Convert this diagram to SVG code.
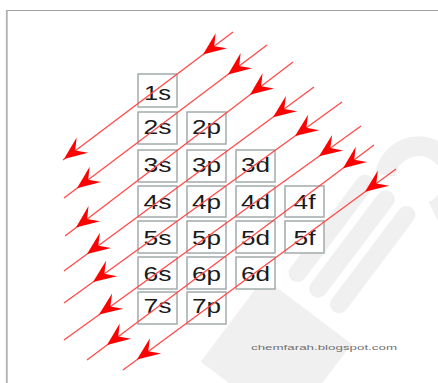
<svg xmlns="http://www.w3.org/2000/svg" width="438" height="383" viewBox="0 0 438 383">
  <style>
    .box { fill: #ffffff; stroke: #a3abab; stroke-width: 1.5; }
    .lbl { font-family: "Liberation Sans", Arial, sans-serif; font-size: 20px; fill: #1a1a1a; text-anchor: middle; }
    .ln { stroke: #ff4a4a; stroke-width: 1.3; fill: none; }
    .ah { fill: #ff0000; }
    .wm { fill: #f0f0f0; }
    .url { font-family: "Liberation Sans", Arial, sans-serif; font-size: 8px; fill: #707070; }
  </style>
  <defs>
    <path id="head" d="M0,0 L-23,-9.5 L-14,0 L-23,9.5 Z"/>
  </defs>
  <rect x="0" y="0" width="438" height="383" fill="#ffffff"/>
  <!-- frame -->
  <line x1="6" y1="10.5" x2="438" y2="10.5" stroke="#a0a0a0" stroke-width="1.2"/>
  <line x1="6.8" y1="10" x2="6.8" y2="383" stroke="#b0b0b0" stroke-width="1.8"/>
  <!-- watermark -->
  <g id="watermark" transform="translate(365,235) rotate(-53)">
    <rect class="wm" x="-80" y="-40" width="130" height="18" rx="9"/>
    <rect class="wm" x="-80" y="-14" width="130" height="18" rx="9"/>
    <rect class="wm" x="-80" y="12" width="130" height="18" rx="9"/>
    <polygon class="wm" points="-200,-55 -95,-55 -95,55 -200,55"/>
    <path d="M60,-20 A34,34 0 1 1 60,40" fill="none" stroke="#f0f0f0" stroke-width="20"/>
  </g>
  <text class="url" x="251" y="350" textLength="146" lengthAdjust="spacingAndGlyphs">chemfarah.blogspot.com</text>

  <g id="n1s"><rect class="box" x="138" y="74" width="39" height="33"/><text class="lbl" x="157.5" y="100" textLength="27" lengthAdjust="spacingAndGlyphs">1s</text></g>
  <g id="n2s"><rect class="box" x="138" y="112" width="39" height="32"/><text class="lbl" x="157.5" y="134" textLength="28" lengthAdjust="spacingAndGlyphs">2s</text></g>
  <g id="n2p"><rect class="box" x="187" y="112" width="39" height="32"/><text class="lbl" x="206.5" y="134" textLength="29" lengthAdjust="spacingAndGlyphs">2p</text></g>
  <g id="n3s"><rect class="box" x="138" y="150" width="39" height="32"/><text class="lbl" x="157.5" y="172" textLength="28" lengthAdjust="spacingAndGlyphs">3s</text></g>
  <g id="n3p"><rect class="box" x="187" y="150" width="39" height="32"/><text class="lbl" x="206.5" y="172" textLength="29" lengthAdjust="spacingAndGlyphs">3p</text></g>
  <g id="n3d"><rect class="box" x="236" y="150" width="39" height="32"/><text class="lbl" x="255.5" y="172" textLength="29" lengthAdjust="spacingAndGlyphs">3d</text></g>
  <g id="n4s"><rect class="box" x="138" y="186" width="39" height="31"/><text class="lbl" x="157.5" y="209" textLength="28" lengthAdjust="spacingAndGlyphs">4s</text></g>
  <g id="n4p"><rect class="box" x="187" y="186" width="39" height="31"/><text class="lbl" x="206.5" y="209" textLength="29" lengthAdjust="spacingAndGlyphs">4p</text></g>
  <g id="n4d"><rect class="box" x="236" y="186" width="39" height="31"/><text class="lbl" x="255.5" y="209" textLength="29" lengthAdjust="spacingAndGlyphs">4d</text></g>
  <g id="n4f"><rect class="box" x="285" y="186" width="39" height="31"/><text class="lbl" x="304.5" y="209" textLength="22" lengthAdjust="spacingAndGlyphs">4f</text></g>
  <g id="n5s"><rect class="box" x="138" y="221" width="39" height="32"/><text class="lbl" x="157.5" y="245" textLength="28" lengthAdjust="spacingAndGlyphs">5s</text></g>
  <g id="n5p"><rect class="box" x="187" y="221" width="39" height="32"/><text class="lbl" x="206.5" y="245" textLength="29" lengthAdjust="spacingAndGlyphs">5p</text></g>
  <g id="n5d"><rect class="box" x="236" y="221" width="39" height="32"/><text class="lbl" x="255.5" y="245" textLength="29" lengthAdjust="spacingAndGlyphs">5d</text></g>
  <g id="n5f"><rect class="box" x="285" y="221" width="39" height="32"/><text class="lbl" x="304.5" y="245" textLength="22" lengthAdjust="spacingAndGlyphs">5f</text></g>
  <g id="n6s"><rect class="box" x="138" y="257" width="39" height="32"/><text class="lbl" x="157.5" y="281" textLength="28" lengthAdjust="spacingAndGlyphs">6s</text></g>
  <g id="n6p"><rect class="box" x="187" y="257" width="39" height="32"/><text class="lbl" x="206.5" y="281" textLength="29" lengthAdjust="spacingAndGlyphs">6p</text></g>
  <g id="n6d"><rect class="box" x="236" y="257" width="39" height="32"/><text class="lbl" x="255.5" y="281" textLength="29" lengthAdjust="spacingAndGlyphs">6d</text></g>
  <g id="n7s"><rect class="box" x="138" y="292" width="39" height="32"/><text class="lbl" x="157.5" y="313" textLength="28" lengthAdjust="spacingAndGlyphs">7s</text></g>
  <g id="n7p"><rect class="box" x="187" y="292" width="39" height="32"/><text class="lbl" x="206.5" y="313" textLength="29" lengthAdjust="spacingAndGlyphs">7p</text></g>

  <g id="connectors">
    <line class="ln" x1="233" y1="32" x2="63" y2="160"/>
    <line class="ln" x1="267" y1="45" x2="64" y2="198"/>
    <line class="ln" x1="293" y1="62" x2="65" y2="236"/>
    <line class="ln" x1="314" y1="87" x2="64" y2="271"/>
    <line class="ln" x1="342" y1="102" x2="64" y2="303"/>
    <line class="ln" x1="361" y1="126" x2="64" y2="340"/>
    <line class="ln" x1="374" y1="145" x2="87" y2="360"/>
    <line class="ln" x1="396" y1="169" x2="123" y2="370"/>

    <use href="#head" class="ah" transform="translate(203,54.6) rotate(143)"/>
    <use href="#head" class="ah" transform="translate(64,159) rotate(143)"/>
    <use href="#head" class="ah" transform="translate(228,74.4) rotate(143)"/>
    <use href="#head" class="ah" transform="translate(77,188.3) rotate(143)"/>
    <use href="#head" class="ah" transform="translate(250,94.8) rotate(142.7)"/>
    <use href="#head" class="ah" transform="translate(76,227.6) rotate(142.7)"/>
    <use href="#head" class="ah" transform="translate(273,117.2) rotate(143.6)"/>
    <use href="#head" class="ah" transform="translate(87,254) rotate(143.6)"/>
    <use href="#head" class="ah" transform="translate(295,136) rotate(144.1)"/>
    <use href="#head" class="ah" transform="translate(93,282) rotate(144.1)"/>
    <use href="#head" class="ah" transform="translate(319,156.2) rotate(144.2)"/>
    <use href="#head" class="ah" transform="translate(99,314.6) rotate(144.2)"/>
    <use href="#head" class="ah" transform="translate(343,168.2) rotate(143.2)"/>
    <use href="#head" class="ah" transform="translate(107,345) rotate(143.2)"/>
    <use href="#head" class="ah" transform="translate(365,191.8) rotate(143.6)"/>
    <use href="#head" class="ah" transform="translate(137,359.6) rotate(143.6)"/>
  </g>
</svg>
